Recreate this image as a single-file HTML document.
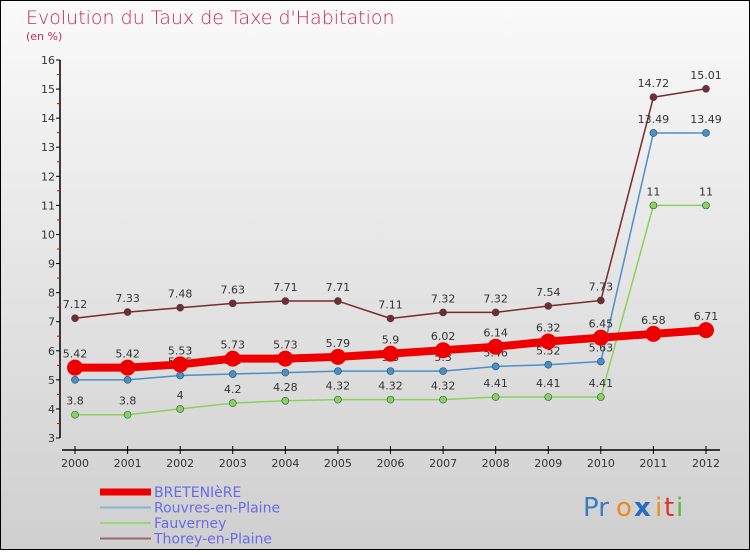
<!DOCTYPE html>
<html><head><meta charset="utf-8"><style>
body{margin:0;}
#c{position:relative;width:750px;height:550px;}
svg{font-family:"DejaVu Sans","Liberation Sans",sans-serif;}
</style></head><body>
<div id="c">
<svg id="svg" width="750" height="550" viewBox="0 0 750 550" xmlns="http://www.w3.org/2000/svg">
<defs>
<linearGradient id="bg" x1="0" y1="0" x2="0" y2="1">
<stop offset="0" stop-color="#fafafa"/><stop offset="1" stop-color="#cfcfcf"/>
</linearGradient>
</defs>
<rect x="0.5" y="0.5" width="749" height="549" fill="url(#bg)" stroke="#000"/>
<text x="26" y="24" font-size="19" fill="#c8285a" font-weight="300">Evolution du Taux de Taxe d'Habitation</text>
<text x="26" y="40" font-size="11" fill="#c8285a">(en %)</text>
<g id="axes"></g>
<g id="series"></g>
<g id="legend"></g>
<g font-size="26" font-family="'DejaVu Sans',sans-serif">
<text x="583" y="516" fill="#3a7cc4">Pr</text><text x="616" y="516" fill="#f08a1c">o</text><text x="634" y="516" fill="#2a6cc4" font-weight="bold">x</text><text x="655" y="516" fill="#f08a1c">i</text><text x="664" y="516" fill="#e03030">t</text><text x="676" y="516" fill="#5cb82c">i</text>
</g>
</svg>
</div>
<script>
const years=[2000,2001,2002,2003,2004,2005,2006,2007,2008,2009,2010,2011,2012];
const yTicks=[3,4,5,6,7,8,9,10,11,12,13,14,15,16];
const seriesNames=["BRETENIèRE","Rouvres-en-Plaine","Fauverney","Thorey-en-Plaine"];
const bretenVals=[5.42,5.42,5.53,5.73,5.73,5.79,5.9,6.02,6.14,6.32,6.45,6.58,6.71];
const rouvresVals=[5,5,5.15,5.2,5.25,5.3,5.3,5.3,5.46,5.52,5.63,13.49,13.49];
const fauvVals=[3.8,3.8,4,4.2,4.28,4.32,4.32,4.32,4.41,4.41,4.41,11,11];
const thoreyVals=[7.12,7.33,7.48,7.63,7.71,7.71,7.11,7.32,7.32,7.54,7.73,14.72,15.01];
const NS="http://www.w3.org/2000/svg";
function xS(i){return 75+i*(706-75)/(years.length-1);}
function yS(v){return 438-(v-3)*(438-60)/13;}
function mk(tag,attrs,parent){const e=document.createElementNS(NS,tag);for(const k in attrs)e.setAttribute(k,attrs[k]);parent.appendChild(e);return e;}
const axes=document.getElementById('axes');
let yl=mk('line',{x1:60,y1:yS(16),x2:60,y2:yS(3),stroke:'#000','stroke-width':1.5},axes);


let xl=mk('line',{x1:62,y1:450,x2:720,y2:450,stroke:'#000','stroke-width':1.5},axes);


yTicks.forEach(v=>{
  mk('line',{x1:56,y1:yS(v),x2:60,y2:yS(v),stroke:'#000'},axes);
  if(v<16) mk('line',{x1:57,y1:yS(v+0.5),x2:60,y2:yS(v+0.5),stroke:'#e00'},axes);
  const t=mk('text',{x:55,y:yS(v)+4,'font-size':11,fill:'#333','text-anchor':'end'},axes);
  t.textContent=v;
  
  
});
years.forEach((y,i)=>{
  mk('line',{x1:xS(i),y1:446,x2:xS(i),y2:454,stroke:'#000'},axes);
  const t=mk('text',{x:xS(i),y:467,'font-size':11,fill:'#333','text-anchor':'middle'},axes);
  t.textContent=y;
  
  
});
const sg=document.getElementById('series');
const defs=[
 {vals:thoreyVals,color:'#7a2a2a',w:1.5,r:3.5,name:'thorey-en-plaine'},
 {vals:fauvVals,color:'#8ad35a',w:1.5,r:3.5,name:'fauverney'},
 {vals:rouvresVals,color:'#4a90c8',w:1.5,r:3.5,name:'rouvres-en-plaine'},
 {vals:bretenVals,color:'#ee0000',w:8,r:8,name:'bretenière'}
];
defs.forEach(d=>{
  const g=mk('g',{},sg);
  
  
  const p=mk('polyline',{points:d.vals.map((v,i)=>xS(i)+','+yS(v)).join(' '),fill:'none',stroke:d.color,'stroke-width':d.w,'stroke-linejoin':'round'},g);
  
  
  d.vals.forEach((v,i)=>{
    const c=mk('circle',{cx:xS(i),cy:yS(v),r:d.r,fill:d.color,stroke:d.r<5?'#2a4a5a':'none','stroke-width':0.6},g);
    
    
    const t=mk('text',{x:xS(i),y:yS(v)-10,'font-size':11,fill:'#333','text-anchor':'middle'},g);
    t.textContent=v;
    
    
  });
});
const lg=document.getElementById('legend');
const lc=['#ee0000','#8ab4d4','#9ad870','#9a6a6a'];
const lw=[7,2,2,2];
seriesNames.forEach((n,i)=>{
  const y=492+i*15.5;
  const g=mk('g',{},lg);
  
  
  mk('line',{x1:100,y1:y,x2:151,y2:y,stroke:lc[i],'stroke-width':lw[i]},g);
  const t=mk('text',{x:154,y:y+5,'font-size':14,fill:'#6a6ae8'},g);
  t.textContent=n;
  
  
});
</script>
</body></html>
